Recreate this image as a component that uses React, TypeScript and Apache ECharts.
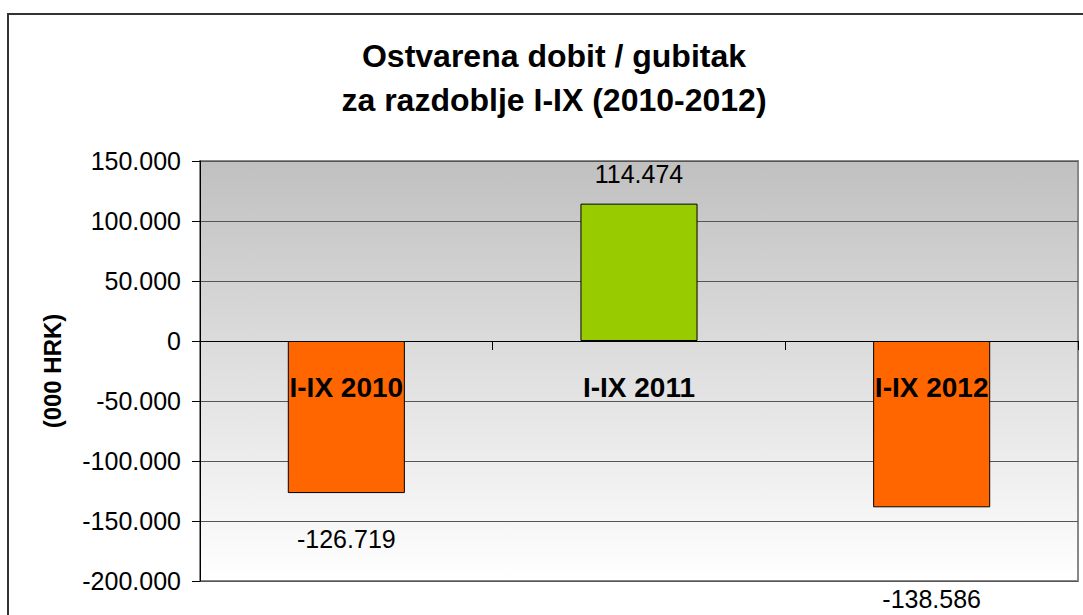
import React, { useEffect, useRef } from "react";
import * as echarts from "echarts";

const categories = ["I-IX 2010", "I-IX 2011", "I-IX 2012"];
const values = [-126719, 114474, -138586];
const barColors = ["#FF6600", "#99CC00", "#FF6600"];
const titleLines = ["Ostvarena dobit / gubitak", "za razdoblje I-IX (2010-2012)"];
const yAxisName = "(000 HRK)";
const yMin = -200000;
const yMax = 150000;
const yStep = 50000;

const FONT = "Arial, 'Liberation Sans', sans-serif";

function fmt(v: number): string {
  const s = Math.abs(Math.round(v)).toString().replace(/\B(?=(\d{3})+(?!\d))/g, ".");
  return (v < 0 ? "-" : "") + s;
}

export default function App() {
  const ref = useRef<HTMLDivElement>(null);
  useEffect(() => {
    if (!ref.current) return;
    const chart = echarts.init(ref.current, undefined, { renderer: "svg" });
    const labelDistances = [33, 17, 79];
    chart.setOption({
      animation: false,
      backgroundColor: "#ffffff",
      title: {
        text: titleLines.join("\n"),
        left: 549,
        top: 29,
        textAlign: "center",
        textStyle: {
          fontFamily: FONT,
          fontSize: 32,
          fontWeight: "bold",
          color: "#000",
          lineHeight: 44,
        },
      },
      graphic: [
        {
          type: "rect",
          shape: { x: 8, y: 14, width: 1200, height: 1000 },
          style: { fill: "none", stroke: "#333", lineWidth: 2 },
          silent: true,
          z: 100,
        },
      ],
      grid: {
        left: 200,
        top: 161,
        right: 5,
        bottom: 34,
        containLabel: false,
        outerBoundsMode: "none",
        show: true,
        borderColor: "#888",
        borderWidth: 2,
        backgroundColor: new echarts.graphic.LinearGradient(0, 0, 0, 1, [
          { offset: 0, color: "#C0C0C0" },
          { offset: 1, color: "#FFFFFF" },
        ]),
      },
      xAxis: {
        type: "category",
        data: categories,
        z: 5,
        axisLine: { show: true, onZero: true, lineStyle: { color: "#000", width: 1 } },
        axisTick: { show: true, length: 9, lineStyle: { color: "#000" } },
        axisLabel: { show: false },
      },
      yAxis: {
        type: "value",
        min: yMin,
        max: yMax,
        interval: yStep,
        name: yAxisName,
        nameLocation: "middle",
        nameGap: 136,
        nameTextStyle: {
          fontFamily: FONT,
          fontSize: 24,
          fontWeight: "bold",
          color: "#000",
        },
        axisLine: { show: true, lineStyle: { color: "#000", width: 1 } },
        axisTick: { show: true, inside: false, length: 8, lineStyle: { color: "#000" } },
        axisLabel: {
          margin: 19,
          fontFamily: FONT,
          fontSize: 25,
          color: "#000",
          formatter: (v: number) => fmt(v),
        },
        splitLine: { show: true, lineStyle: { color: "#555", width: 1 } },
      },
      series: [
        {
          type: "bar",
          barWidth: "40%",
          z: 2,
          data: values.map((v, i) => ({
            value: v,
            itemStyle: { color: barColors[i], borderColor: "#000", borderWidth: 1 },
            label: {
              show: true,
              position: v >= 0 ? "top" : "bottom",
              distance: labelDistances[i],
              formatter: () => fmt(v),
              fontFamily: FONT,
              fontSize: 25,
              color: "#000",
            },
          })),
        },
        {
          type: "scatter",
          symbolSize: 0,
          silent: true,
          z: 10,
          itemStyle: { opacity: 1 },
          data: categories.map((c) => [c, 0]),
          label: {
            show: true,
            position: "bottom",
            distance: 32,
            opacity: 1,
            formatter: (p: any) => p.data[0],
            fontFamily: FONT,
            fontSize: 28,
            fontWeight: "bold",
            color: "#000",
          },
        },
      ],
    });
    return () => chart.dispose();
  }, []);
  return (
    <div
      ref={ref}
      style={{ position: "absolute", left: 0, top: 0, width: 1083, height: 615 }}
    />
  );
}
